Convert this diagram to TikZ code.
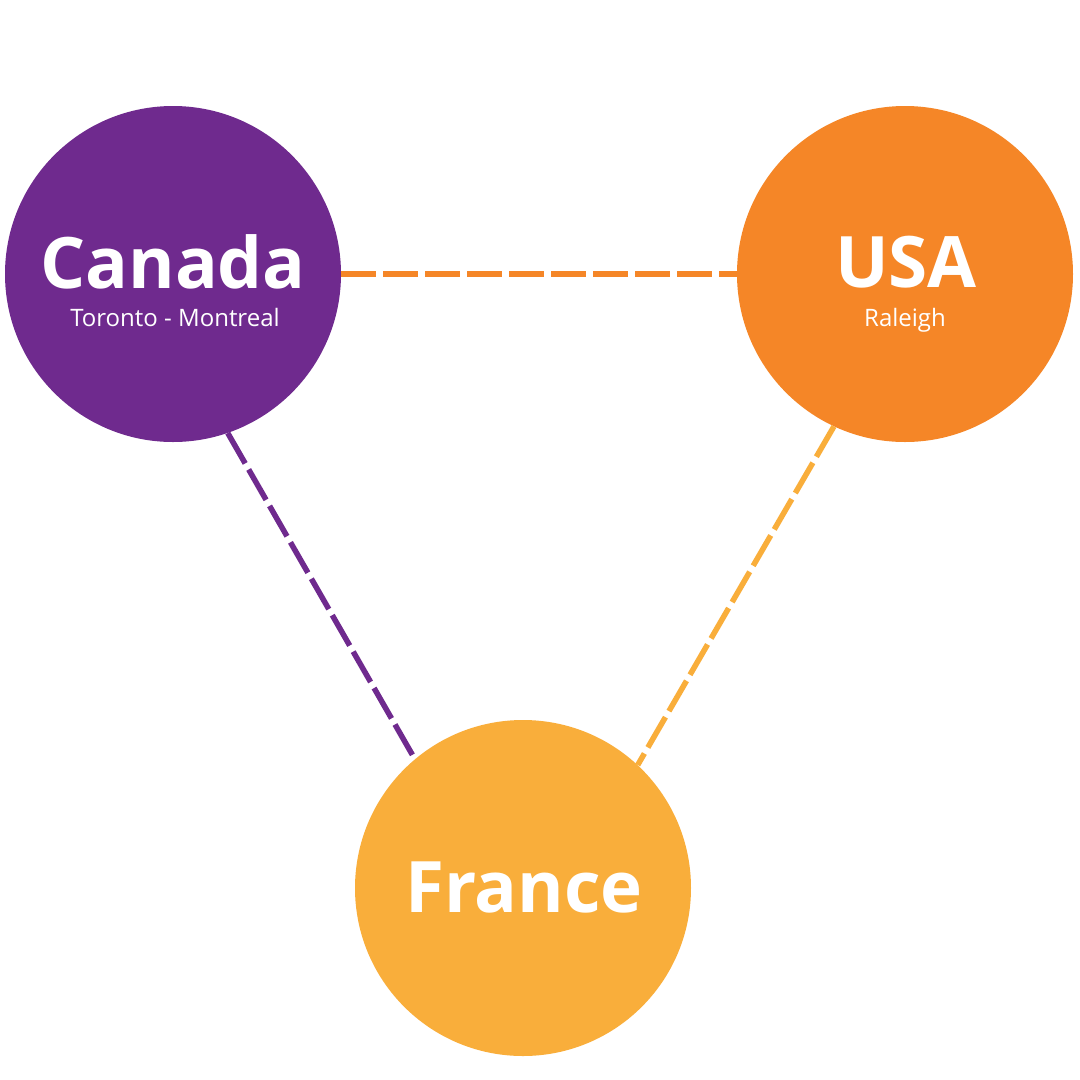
\documentclass[tikz,border=0pt]{standalone}
\usepackage{fontspec}
\setmainfont{Open Sans}
\definecolor{cpurple}{HTML}{6F2A8E}
\definecolor{corange}{HTML}{F58627}
\definecolor{cyellow}{HTML}{F9AE3B}
\tikzset{
  country/.style={circle, minimum size=336pt, inner sep=0pt, draw=none},
  title/.style={anchor=base, text=white, inner sep=0pt, font=\fontsize{71}{71}\selectfont\bfseries},
  subtitle/.style={anchor=base, text=white, inner sep=0pt, font=\fontsize{24}{24}\selectfont},
  link/.style={line width=5.5pt, dash pattern=on 35pt off 7pt}
}
\begin{document}
\begin{tikzpicture}[x=1pt,y=-1pt]
\useasboundingbox (0,0) rectangle (1080,1080);
\fill[white] (0,0) rectangle (1080,1080);
\node[country, fill=cpurple] (canada) at (173,274) {};
\node[country, fill=corange] (usa) at (905,274) {};
\node[country, fill=cyellow] (france) at (523,888) {};
\draw[link, draw=corange] (canada.east) -- (usa.west);
\draw[link, draw=cpurple, shorten >=4pt] (canada.-71) -- (france.130);
\draw[link, draw=cyellow] (usa.245) -- (france.47);
\node[title] (canadat) at (173,288) {Canada};
\node[subtitle] (canadas) at (175,326) {Toronto - Montreal};
\node[title] (usat) at (906,287) {USA};
\node[subtitle] (usas) at (905,326) {Raleigh};
\node[title] (francet) at (524,912) {France};
\end{tikzpicture}
\end{document}
